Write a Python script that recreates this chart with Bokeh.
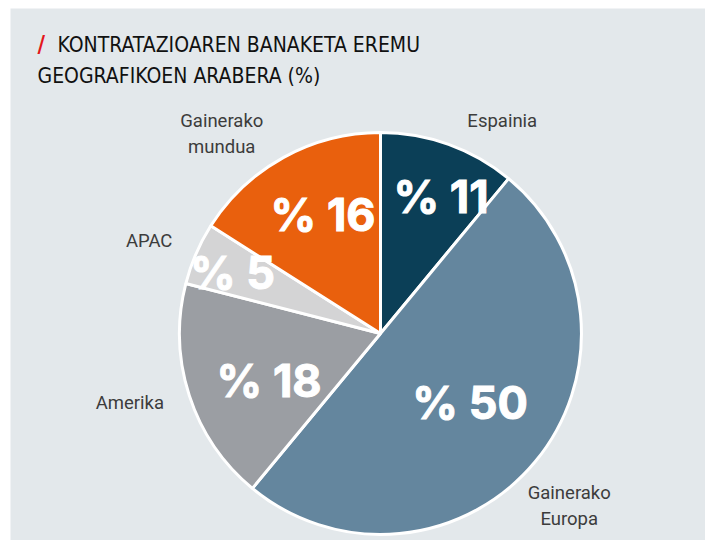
import math
from bokeh.plotting import figure
from bokeh.models import Range1d, ColumnDataSource
from bokeh.core.properties import value
from bokeh.embed import file_html
from bokeh.resources import INLINE

# ---- data ----
categories = ["Espainia", "Gainerako Europa", "Amerika", "APAC", "Gainerako mundua"]
shares = [11, 50, 18, 5, 16]
pct_labels = ["% 11", "% 50", "% 18", "% 5", "% 16"]
cat_lines = [["Espainia"], ["Gainerako", "Europa"], ["Amerika"], ["APAC"], ["Gainerako", "mundua"]]
colors = ["#0b3f57", "#64869e", "#9b9ea3", "#d4d4d5", "#e9600d"]

# ---- layout / style ----
W, H = 695, 532
BG = "#e3e8eb"
cx, cy, R = 370, 207, 201          # pie centre in plot units (y up)
inner_r = [150, 113, 121, 160, 132]  # radial distance of % labels
inner_da = [4, -2, -5, -1, 3]        # angular nudge (deg) of % labels
outer_r = [245, 256, 260, 249, 255]
outer_ang = [29.8, 132.5, 254.6, 291.7, 321.5]  # clockwise from top, deg
TITLE_FONT = "'DejaVu Sans Condensed', 'Roboto Condensed', 'Liberation Sans Narrow', Roboto"

p = figure(width=W, height=H, output_backend="svg", toolbar_location=None,
           x_range=Range1d(0, W), y_range=Range1d(0, H),
           min_border_left=0, min_border_right=0, min_border_top=0, min_border_bottom=0,
           margin=(8, 0, 0, 10),
           border_fill_color=BG, background_fill_color=BG, outline_line_color=None)
p.axis.visible = False
p.grid.visible = False

total = sum(shares)
cum = 0
starts, ends, mids = [], [], []
for s in shares:
    a0 = cum / total * 2 * math.pi
    cum += s
    a1 = cum / total * 2 * math.pi
    starts.append(math.pi / 2 - a1)
    ends.append(math.pi / 2 - a0)
    mids.append((a0 + a1) / 2)

src = ColumnDataSource(dict(start=starts, end=ends, color=colors, cat=categories))
p.wedge(x=cx, y=cy, radius=R, start_angle="start", end_angle="end", direction="anticlock",
        fill_color="color", line_color="white", line_width=3, source=src)

# percentage labels
px, py = [], []
for m, r, da in zip(mids, inner_r, inner_da):
    a = m + math.radians(da)
    px.append(cx + r * math.sin(a))
    py.append(cy + r * math.cos(a))
p.text(x=px, y=py, text=pct_labels, text_font=value("Inter"), text_font_style="bold",
       text_font_size="45px", text_color="white", text_outline_color="white",
       text_align="center", text_baseline="middle")

# category labels
lx, ly, lt = [], [], []
for lines, r, ang in zip(cat_lines, outer_r, outer_ang):
    a = math.radians(ang)
    x0 = cx + r * math.sin(a)
    y0 = cy + r * math.cos(a)
    n = len(lines)
    for i, t in enumerate(lines):
        lx.append(x0)
        ly.append(y0 + (n - 1) * 13 - i * 26)
        lt.append(t)
p.text(x=lx, y=ly, text=lt, text_font=value("Roboto"), text_font_size="18.5px",
       text_color="#3c3c3c", text_align="center", text_baseline="middle")

# title
p.text(x=[27], y=[H - 35], text=["/"], text_font=value(TITLE_FONT),
       text_font_style="bold", text_font_size="23px", text_color="#e3171b",
       text_align="left", text_baseline="middle")
p.text(x=[47, 27], y=[H - 36, H - 67],
       text=["KONTRATAZIOAREN BANAKETA EREMU", "GEOGRAFIKOEN ARABERA (%)"],
       text_font=value(TITLE_FONT), text_font_size="21px",
       text_color="#111111", text_align="left", text_baseline="middle")

open("out.html", "w").write(file_html(p, INLINE))
